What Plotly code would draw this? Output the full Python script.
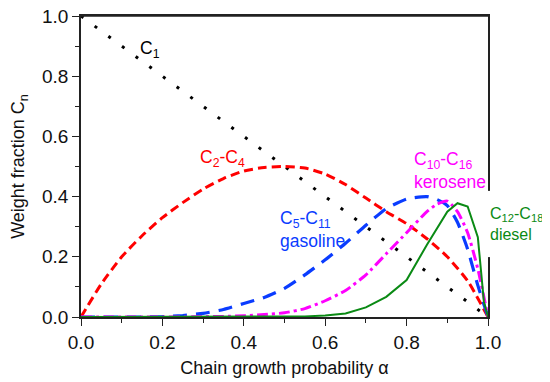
import plotly.graph_objects as go

# ---- data ----
alpha_c1 = [0.0, 1.0]
c1 = [1.0, 0.0]

alpha_c2c4 = [0, .05, .1, .15, .2, .25, .3, .35, .4, .45, .5, .55, .6, .65, .7, .75, .8, .85, .9, .95, 1.0]
c2c4 = [0, 0.11, 0.2, 0.27, 0.33, 0.38, 0.425, 0.46, 0.485, 0.497, 0.50, 0.495, 0.475, 0.44, 0.395, 0.35, 0.31, 0.26, 0.20, 0.12, 0.0]

alpha_c5c11 = [0, .05, .1, .15, .2, .25, .3, .35, .4, .45, .5, .55, .6, .65, .7, .75, .8, .85, .875, .9, .925, .95, .975, 1.0]
c5c11 = [0, 0, 0, 0, 0.001, 0.005, 0.012, 0.025, 0.045, 0.065, 0.095, 0.14, 0.19, 0.245, 0.305, 0.36, 0.392, 0.40, 0.39, 0.37, 0.315, 0.225, 0.105, 0.0]

alpha_c10c16 = [0, .05, .1, .15, .2, .25, .3, .35, .4, .45, .5, .55, .6, .65, .7, .75, .8, .85, .875, .9, .925, .95, .975, 1.0]
c10c16 = [0, 0, 0, 0, 0, 0, 0.001, 0.002, 0.004, 0.008, 0.014, 0.028, 0.054, 0.088, 0.14, 0.21, 0.28, 0.35, 0.375, 0.385, 0.35, 0.28, 0.16, 0.0]

alpha_c12c18 = [0, .05, .1, .15, .2, .25, .3, .35, .4, .45, .5, .55, .6, .65, .7, .75, .8, .85, .9, .925, .95, .975, .99, 1.0]
c12c18 = [0, 0, 0, 0, 0, 0, 0, 0, 0, 0, 0.001, 0.002, 0.005, 0.012, 0.032, 0.067, 0.123, 0.24, 0.35, 0.378, 0.367, 0.265, 0.05, 0.0]

x_ticks = [0.0, 0.2, 0.4, 0.6, 0.8, 1.0]
y_ticks = [0.0, 0.2, 0.4, 0.6, 0.8, 1.0]

FONT = "Arial, 'Liberation Sans', sans-serif"

fig = go.Figure()
fig.add_trace(go.Scatter(x=alpha_c1, y=c1, mode="lines",
                         line=dict(color="#000000", width=3, dash="3px,14px")))
fig.add_trace(go.Scatter(x=alpha_c2c4, y=c2c4, mode="lines",
                         line=dict(color="#FF0000", width=3, dash="9px,5px", shape="spline", smoothing=0.6)))
fig.add_trace(go.Scatter(x=alpha_c5c11, y=c5c11, mode="lines",
                         line=dict(color="#0A3CFF", width=3.2, dash="14px,9px", shape="spline", smoothing=0.5)))
fig.add_trace(go.Scatter(x=alpha_c10c16, y=c10c16, mode="lines",
                         line=dict(color="#FF00FF", width=3, dash="11px,4px,3px,4px", shape="spline", smoothing=0.5)))
fig.add_trace(go.Scatter(x=alpha_c12c18, y=c12c18, mode="lines",
                         line=dict(color="#0A8A14", width=2)))

axis_common = dict(
    range=[0, 1], showgrid=False, zeroline=False, automargin=False,
    showline=True, linecolor="#222222", linewidth=1.6, mirror=True,
    ticks="outside", ticklen=7, tickwidth=1.4, tickcolor="#222222",
    tickfont=dict(family=FONT, size=19, color="#111111"),
    tickformat=".1f", ticklabeloverflow="allow",
    minor=dict(ticks="outside", ticklen=4, tickwidth=1.2, tickcolor="#222222", dtick=0.1),
)

fig.update_xaxes(**axis_common, tickvals=x_ticks,
                 title=dict(text="Chain growth probability α", font=dict(family=FONT, size=18, color="#111111"), standoff=10))
fig.update_yaxes(**axis_common, tickvals=y_ticks,
                 title=dict(text="Weight fraction C<sub>n</sub>", font=dict(family=FONT, size=18, color="#111111"), standoff=20))

ann = [
    dict(x=0.17, y=0.89, text="C<sub>1</sub>", color="#000000", xanchor="center", ref="x", size=17.5),
    dict(x=0.288, y=0.525, text="C<sub>2</sub>-C<sub>4</sub>", color="#FF0000", xanchor="left", ref="x", size=17.5),
    dict(x=0.484, y=0.29, text="C<sub>5</sub>-C<sub>11</sub><br>gasoline", color="#0A3CFF", xanchor="left", ref="x", size=17.5),
    dict(x=0.813, y=0.487, text="C<sub>10</sub>-C<sub>16</sub><br>kerosene", color="#FF00FF", xanchor="left", ref="x", size=17.5),
    dict(x=1.0, y=0.31, text="C<sub>12</sub>-C<sub>18</sub><br>diesel", color="#0A8A14", xanchor="left", ref="paper", size=16),
]
for a in ann:
    fig.add_annotation(x=a["x"], y=a["y"], xref=a["ref"], yref="y", text=a["text"], showarrow=False,
                       xanchor=a["xanchor"], yanchor="middle", align="left",
                       font=dict(family=FONT, size=a["size"], color=a["color"]))

# top frame line (drawn explicitly as well)
fig.add_shape(type="line", xref="paper", yref="paper", x0=0, x1=1, y0=1, y1=1,
              line=dict(color="#222222", width=1.6), layer="above")
# gap in the right frame line behind the diesel label
fig.add_shape(type="rect", xref="paper", yref="y", x0=0.99, x1=1.01, y0=0.199, y1=0.419,
              fillcolor="white", line=dict(width=0), layer="above")

# the page body has an 8px default margin, so the figure is offset by 8px
fig.update_layout(
    width=542, height=374,
    margin=dict(l=72.5, r=62, t=8, b=65, autoexpand=False),
    paper_bgcolor="white", plot_bgcolor="white",
    showlegend=False,
    font=dict(family=FONT),
)

fig.write_html("out.html")
